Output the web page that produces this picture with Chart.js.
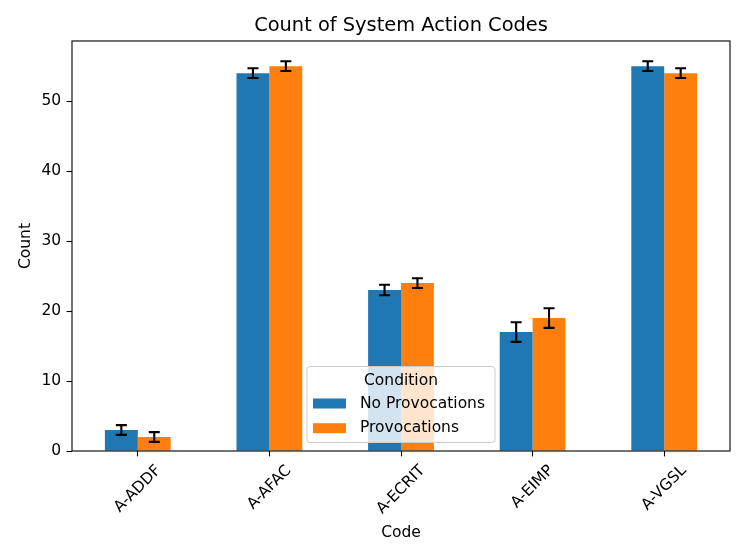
<!DOCTYPE html>
<html>
<head>
<meta charset="utf-8">
<script src="https://cdn.jsdelivr.net/npm/chart.js@4.4.1/dist/chart.umd.min.js"></script>
<style>
  html, body { margin: 0; padding: 0; background: #fff; }
  #wrap { width: 747px; height: 560px; position: relative; }
</style>
</head>
<body>
<div id="wrap"><canvas id="myChart"></canvas></div>
<script>
// Codes along the x-axis
var codes = ["A-ADDF", "A-AFAC", "A-ECRIT", "A-EIMP", "A-VGSL"];

// Counts per condition
var noProvocations = [3, 54, 23, 17, 55];
var provocations = [2, 55, 24, 19, 54];

// Error bar half-lengths
var noProvocationsErr = [0.7, 0.7, 0.75, 1.4, 0.7];
var provocationsErr = [0.7, 0.7, 0.7, 1.4, 0.7];

var yTicks = [0, 10, 20, 30, 40, 50];

var FONT = "DejaVu Sans";
var FS = 15.5;
Chart.defaults.font.family = FONT;
Chart.defaults.font.size = FS;
Chart.defaults.color = "#000";

// error bars drawn from the y scale
var errorBars = {
  id: "errorBars",
  afterDatasetsDraw: function (chart) {
    var ctx = chart.ctx, y = chart.scales.y;
    ctx.save();
    ctx.strokeStyle = "#000";
    ctx.lineWidth = 2.1;
    chart.data.datasets.forEach(function (ds, i) {
      var meta = chart.getDatasetMeta(i);
      meta.data.forEach(function (bar, j) {
        var v = ds.data[j], e = ds.errors[j];
        var top = y.getPixelForValue(v + e), bot = y.getPixelForValue(v - e);
        ctx.beginPath();
        ctx.moveTo(bar.x, top); ctx.lineTo(bar.x, bot);
        ctx.moveTo(bar.x - 5.5, top); ctx.lineTo(bar.x + 5.5, top);
        ctx.moveTo(bar.x - 5.5, bot); ctx.lineTo(bar.x + 5.5, bot);
        ctx.stroke();
      });
    });
    ctx.restore();
  }
};

// frame, legend inside the axes, rotated x labels
var extras = {
  id: "extras",
  afterDraw: function (chart) {
    var ctx = chart.ctx, a = chart.chartArea, x = chart.scales.x;
    ctx.save();
    ctx.strokeStyle = "#000";
    ctx.lineWidth = 1.1;
    ctx.strokeRect(a.left, a.top, a.right - a.left, a.bottom - a.top);

    // x tick labels, rotated 45deg, centered under the tick
    ctx.font = FS + "px '" + FONT + "'";
    ctx.fillStyle = "#000";
    ctx.textAlign = "center";
    ctx.textBaseline = "middle";
    var h = FS * 1.16;
    chart.data.labels.forEach(function (lab, i) {
      var w = ctx.measureText(lab).width;
      var bh = (w + h) * Math.SQRT1_2;
      var cx = x.getPixelForValue(i);
      var cy = a.bottom + 5.4 + 5.4 + bh / 2;
      ctx.save();
      ctx.translate(cx, cy);
      ctx.rotate(-Math.PI / 4);
      ctx.fillText(lab, 0, 0);
      ctx.restore();
    });

    // legend
    var dss = chart.data.datasets;
    var textW = 0;
    dss.forEach(function (d) { textW = Math.max(textW, ctx.measureText(d.label).width); });
    var boxW = 6 + 33 + 14 + textW + 10;
    var boxH = 76;
    var cxm = (a.left + a.right) / 2;
    var bx = cxm - boxW / 2, by = a.bottom - 8.5 - boxH;
    ctx.beginPath();
    ctx.roundRect(bx, by, boxW, boxH, 3);
    ctx.fillStyle = "rgba(255,255,255,0.8)";
    ctx.fill();
    ctx.strokeStyle = "#cccccc";
    ctx.lineWidth = 1;
    ctx.stroke();
    ctx.fillStyle = "#000";
    ctx.textAlign = "center";
    ctx.fillText("Condition", cxm, by + 14);
    ctx.textAlign = "left";
    dss.forEach(function (d, i) {
      var ry = by + 37 + i * 24.7;
      ctx.fillStyle = d.backgroundColor;
      ctx.fillRect(bx + 6, ry - 5, 33, 10);
      ctx.fillStyle = "#000";
      ctx.fillText(d.label, bx + 6 + 33 + 14, ry);
    });
    ctx.restore();
  }
};

var ctx = document.getElementById("myChart");
var myChart = new Chart(ctx, {
  type: "bar",
  data: {
    labels: codes,
    datasets: [
      {
        label: "No Provocations",
        data: noProvocations,
        errors: noProvocationsErr,
        backgroundColor: "#1f77b4",
        categoryPercentage: 0.5,
        barPercentage: 1.0
      },
      {
        label: "Provocations",
        data: provocations,
        errors: provocationsErr,
        backgroundColor: "#ff7f0e",
        categoryPercentage: 0.5,
        barPercentage: 1.0
      }
    ]
  },
  options: {
    responsive: true,
    maintainAspectRatio: false,
    animation: false,
    events: [],
    layout: { padding: { left: 0, right: 17, top: 0, bottom: 0 } },
    plugins: {
      legend: { display: false },
      tooltip: { enabled: false },
      title: {
        display: true,
        fullSize: false,
        text: "Count of System Action Codes",
        color: "#000",
        font: { size: 19.4, weight: "normal" },
        padding: { top: 14, bottom: 3.7 }
      }
    },
    scales: {
      x: {
        grid: { offset: false, drawOnChartArea: false, drawTicks: true, tickLength: 5.4, tickColor: "#000", tickWidth: 1.1 },
        border: { display: false },
        ticks: { color: "rgba(0,0,0,0)", maxRotation: 45, minRotation: 45 },
        title: { display: true, text: "Code", color: "#000", font: { size: FS }, padding: { top: 0, bottom: 17.7 } },
        afterFit: function (s) { s.height = 109; }
      },
      y: {
        min: 0,
        max: 58.6,
        grid: { drawOnChartArea: false, drawTicks: true, tickLength: 5.4, tickColor: "#000", tickWidth: 1.1 },
        border: { display: false },
        ticks: { stepSize: 10, padding: 5.4, color: "#000" },
        afterBuildTicks: function (s) {
          s.ticks = yTicks.map(function (v) { return { value: v }; });
        },
        title: { display: true, text: "Count", color: "#000", font: { size: FS }, padding: { top: 16.7, bottom: 0 } },
        afterFit: function (s) { s.width = 72; }
      }
    }
  },
  plugins: [errorBars, extras]
});
</script>
</body>
</html>
